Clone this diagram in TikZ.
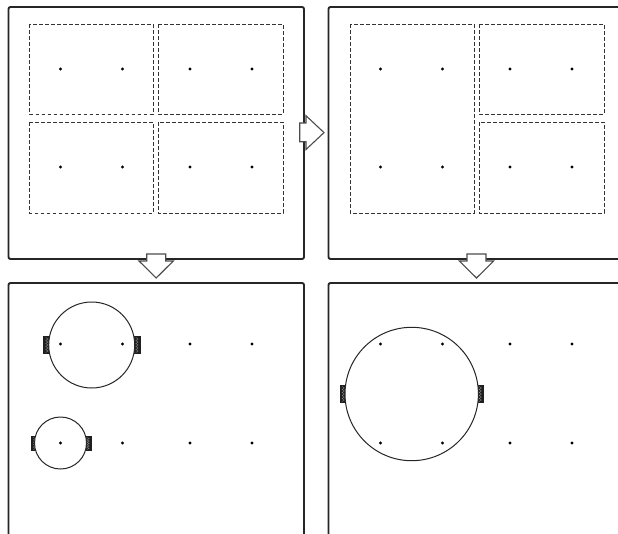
\documentclass[tikz,border=0pt]{standalone}
\tikzset{
  frame/.style={draw=black!85,line width=1.9pt,rounded corners=2pt},
  dashbox/.style={draw=black!80,line width=1pt,dash pattern=on 3.6pt off 2.4pt},
  pin/.style={fill=black,circle,inner sep=0pt,minimum size=3.3pt},
  hole/.style={draw=black!85,line width=1pt,fill=white},
  clamp/.style={fill=black!88,draw=none},
  zig/.style={draw=white!60!black,line width=0.3pt},
  bigarrow/.style={draw=black!70,line width=1.1pt,fill=white,line join=miter}
}
\newcommand{\clampbox}[4]{%
  \fill[clamp] (#1,#2) rectangle (#3,#4);
  \draw[zig] ({(#1+#3)/2-1.2},{#2+1.5})
    \foreach \k in {1,...,5}{ -- ++(2.4,{(#4-#2-3)/10}) -- ++(-2.4,{(#4-#2-3)/10}) };
}
\begin{document}
\begin{tikzpicture}[x=1pt,y=-1pt]
\useasboundingbox (0,0) rectangle (618,533);
\begin{scope}
\clip (0,0) rectangle (618,533);
% frames
\draw[frame] (8.5,7) rectangle (304,259);
\draw[frame] (328.5,7) rectangle (640,259);
\draw[frame] (8.5,283) rectangle (304,560);
\draw[frame] (328.5,283) rectangle (640,560);
% dashed boxes
\draw[dashbox] (29.5,24) rectangle (153,114);
\draw[dashbox] (158,24) rectangle (283,114);
\draw[dashbox] (29.5,122) rectangle (153,213);
\draw[dashbox] (158,122) rectangle (283,213);
\draw[dashbox] (350,24) rectangle (474,213);
\draw[dashbox] (479,24) rectangle (604,114);
\draw[dashbox] (479,122) rectangle (604,213);
% clamps and holes
\clampbox{42.7}{336}{51}{354}
\clampbox{133}{336}{141}{354}
\clampbox{31}{436}{38}{451}
\clampbox{84.5}{436}{91.5}{451}
\clampbox{339.5}{385}{347}{403}
\clampbox{476.5}{385}{484}{403}
\draw[hole] (91.7,345) circle (43);
\draw[hole] (60.5,443) circle (26);
\draw[hole] (411.7,394) circle (66.7);
% pins
\foreach \xx in {60.5,122.5,190,252,380.5,442.5,510,572}{
  \foreach \yy in {69,167,344,443}{
    \node[pin] at (\xx,\yy) {};
  }
}
% arrows
\draw[bigarrow] (299.7,123) -- (306,123) -- (306,115.7) -- (324,132.6) -- (306,149.5) -- (306,141.7) -- (299.7,141.7) -- cycle;
\draw[bigarrow] (146.7,254) -- (165.7,254) -- (165.7,261) -- (173.3,261) -- (156.2,278) -- (139,261) -- (146.7,261) -- cycle;
\draw[bigarrow] (467,254) -- (486,254) -- (486,261) -- (493.6,261) -- (476.5,278) -- (459.3,261) -- (467,261) -- cycle;
\end{scope}
\end{tikzpicture}
\end{document}
